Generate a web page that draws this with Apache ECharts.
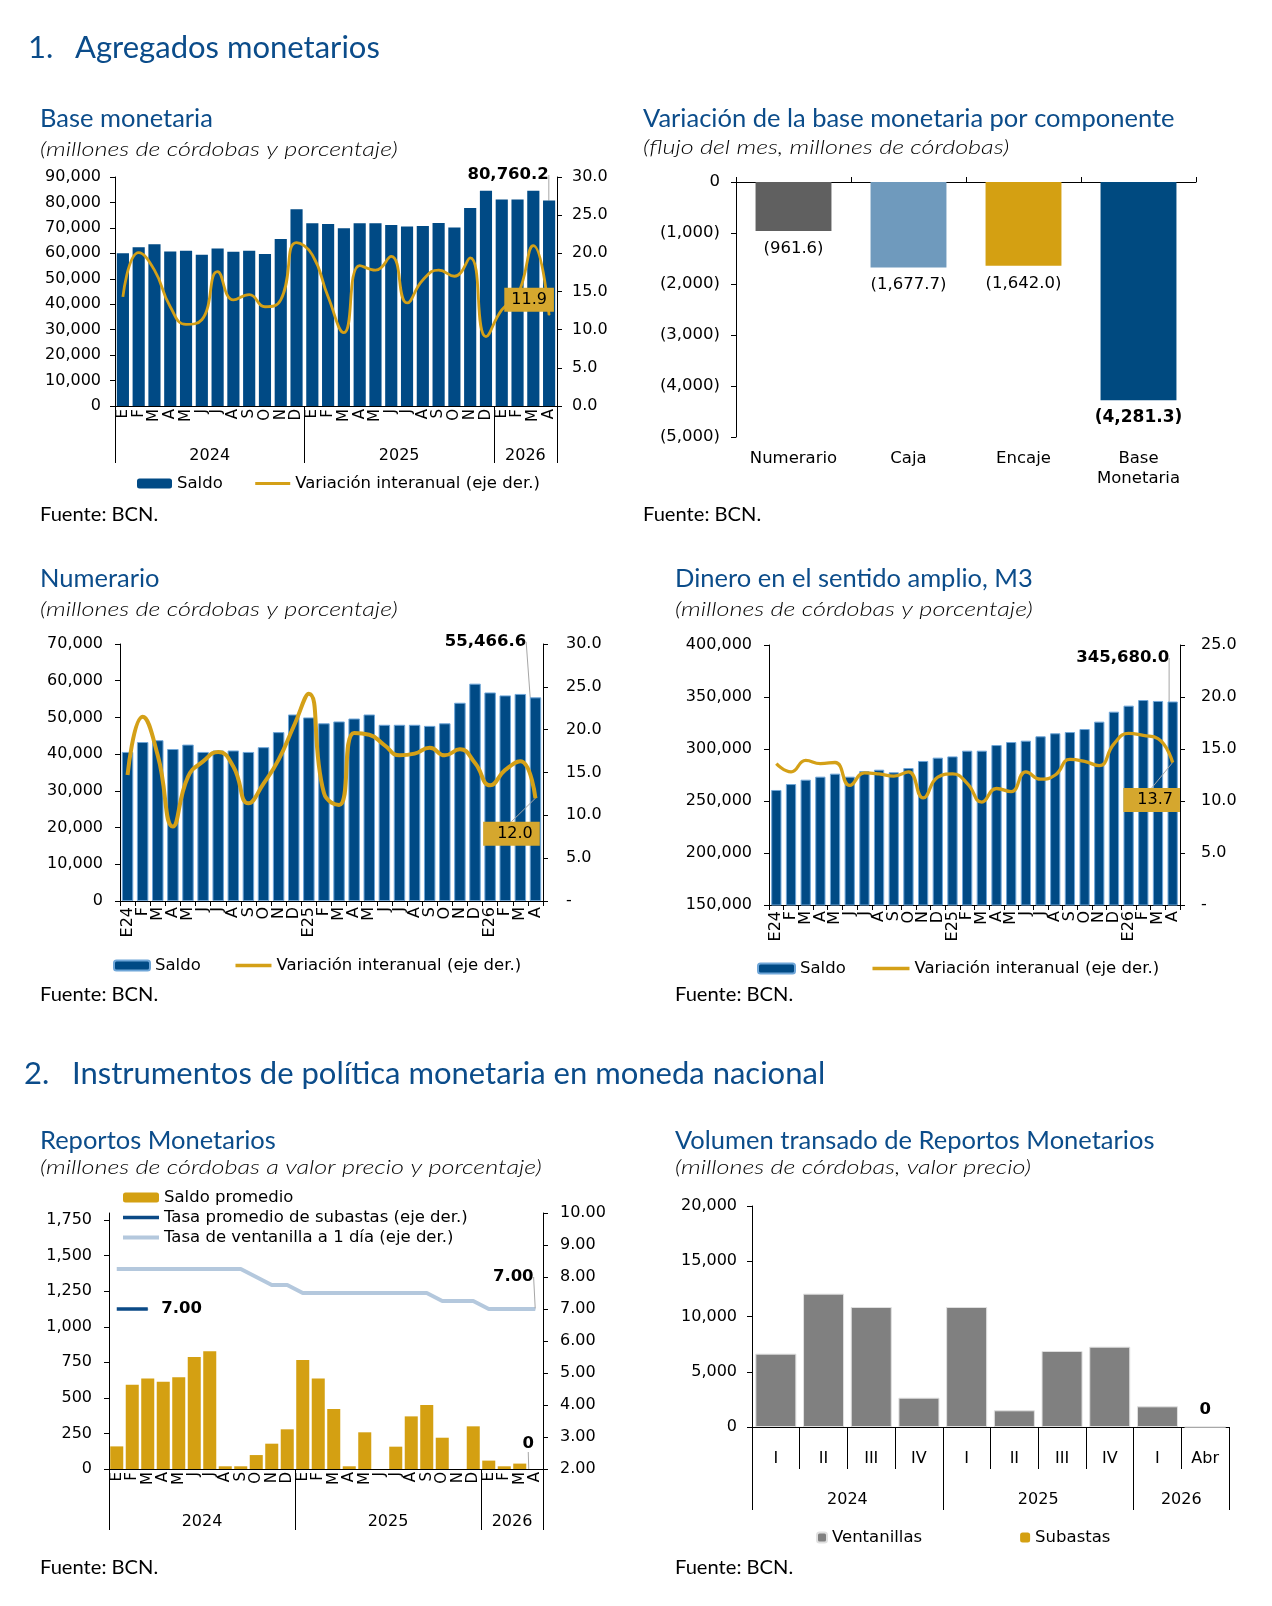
<!DOCTYPE html>
<html>
<head>
<meta charset="utf-8">
<script src="https://cdn.jsdelivr.net/npm/echarts@6/dist/echarts.min.js"></script>
<style>
  html, body { margin: 0; padding: 0; background: #fff; }
  #main { width: 1272px; height: 1606px; }
</style>
</head>
<body>
<div id="main"></div>
<script>
// categorias
const months = ['E','F','M','A','M','J','J','A','S','O','N','D','E','F','M','A','M','J','J','A','S','O','N','D','E','F','M','A']
const monthsYr = ['E24','F','M','A','M','J','J','A','S','O','N','D','E25','F','M','A','M','J','J','A','S','O','N','D','E26','F','M','A']
const years = ['2024', '2025', '2026']
const yearSpans = [12, 12, 4]

// Base monetaria
const baseSaldo = [60000, 62400, 63600, 60700, 61000, 59400, 61900, 60600, 61000, 59700, 65600, 77300,
  71800, 71500, 69900, 71800, 71800, 71100, 70500, 70700, 71900, 70200, 77800, 84600,
  81200, 81200, 84600, 80760.2]
const baseVar = [14.3, 20.1, 17.8, 13.0, 10.7, 11.3, 17.6, 13.9, 14.6, 13.0, 13.9, 21.4,
  19.8, 14.3, 9.6, 18.4, 17.8, 19.6, 13.5, 16.5, 17.8, 17.0, 19.4, 9.1,
  12.6, 14.5, 21.0, 11.9]

// Variacion por componente
const compCats = ['Numerario', 'Caja', 'Encaje', 'Base\nMonetaria']
const compVals = [-961.6, -1677.7, -1642.0, -4281.3]

// Numerario
const numSaldo = [40600, 43300, 43800, 41400, 42600, 40600, 41000, 41000, 40600, 41900, 46000, 50800,
  50000, 48400, 48900, 49700, 50800, 48000, 48000, 48000, 47700, 48400, 54000, 59200,
  56800, 56000, 56400, 55466.6]
const numVar = [14.7, 21.5, 17.0, 8.7, 14.5, 16.3, 17.4, 15.7, 11.4, 13.7, 16.5, 20.4,
  24.2, 12.6, 11.2, 19.6, 19.4, 18.2, 17.0, 17.2, 17.9, 17.0, 17.7, 16.1,
  13.5, 15.3, 16.3, 12.0]

// M3
const m3Saldo = [260600, 266300, 270500, 273400, 276300, 273400, 278800, 280100, 277600, 281700, 288500, 291700,
  292900, 298400, 298400, 303800, 306700, 308000, 312200, 315100, 316300, 319200, 326300, 335900,
  341700, 347100, 346200, 345680.0]
const m3Var = [13.6, 12.8, 13.9, 13.6, 13.7, 11.5, 12.7, 12.6, 12.4, 12.8, 10.3, 12.3,
  12.6, 11.7, 9.9, 11.2, 10.9, 12.8, 12.1, 12.5, 14.0, 13.8, 13.4, 15.5,
  16.5, 16.3, 16.0, 13.7]

// Reportos monetarios
const repSaldo = [159, 593, 636, 614, 645, 788, 828, 19, 19, 98, 178, 279,
  767, 636, 422, 19, 258, 0, 157, 370, 450, 220, 0, 300,
  59, 19, 38, 0]
const repSubasta = [7.00, 7.00, 7.00, null, null, null, null, null, null, null, null, null,
  null, null, null, null, null, null, null, null, null, null, null, null,
  null, null, null, null]
const repVentanilla = [8.25, 8.25, 8.25, 8.25, 8.25, 8.25, 8.25, 8.25, 8.25, 8.00, 7.75, 7.75,
  7.50, 7.50, 7.50, 7.50, 7.50, 7.50, 7.50, 7.50, 7.50, 7.25, 7.25, 7.25,
  7.00, 7.00, 7.00, 7.00]

// Volumen transado
const quarters = ['I', 'II', 'III', 'IV', 'I', 'II', 'III', 'IV', 'I', 'Abr']
const volYears = ['2024', '2025', '2026']
const volYearSpans = [4, 4, 2]
const volVentanillas = [6640, 12070, 10860, 2655, 10860, 1510, 6880, 7270, 1870, 0]
const volSubastas = [0, 0, 0, 0, 0, 0, 0, 0, 0, 0]

// limites y centros de los grupos de años
function bounds(spans) {
  const b = [0]
  spans.forEach(s => b.push(b[b.length - 1] + s))
  return b
}
function mids(spans) {
  const b = bounds(spans)
  return spans.map((s, i) => b[i] + s / 2)
}

const BLUE = '#004A85'
const GOLD = '#D4A017'
const TITLE = '#0B4C8A'
const font = 'DejaVu Sans'
const tick = { fontFamily: font, fontSize: 16, color: '#000' }
const legText = { fontFamily: font, fontSize: 16.5, color: '#000' }
const blackLine = { lineStyle: { color: '#000', width: 1 } }
const guide = { show: true, lineStyle: { color: '#A6A6A6', width: 1 } }
const strip = name => name.split('#')[0]
const fmtK = v => v.toLocaleString('en-US')
const fmt1 = v => v.toLocaleString('en-US', { minimumFractionDigits: 1, maximumFractionDigits: 1 })
const lineItem = (name, w) => ({ name, itemStyle: { opacity: 0 }, lineStyle: { width: w } })

function lastItem(arr, extra) {
  return arr.map((v, i) => i === arr.length - 1 ? Object.assign({ value: v }, extra) : v)
}

// mueve la etiqueta y traza la guia desde un punto de la etiqueta (fx, fy relativos)
// hasta la esquina superior derecha (o centro) del elemento
function leader(dx, dy, fx, fy, toRight) {
  return p => {
    const l = p.labelRect
    const r = p.rect
    const a = [l.x + dx + l.width * fx, l.y + dy + l.height * fy]
    const b = toRight ? [r.x + r.width, r.y] : [r.x + r.width / 2, r.y + r.height / 2]
    return { dx, dy, labelLinePoints: [a, [(a[0] + b[0]) / 2, (a[1] + b[1]) / 2], b] }
  }
}

function valAxis(grid, pos, min, max, interval, fmt, margin, size) {
  return {
    type: 'value', gridIndex: grid, min, max, interval, position: pos,
    axisLine: { show: true, onZero: false, ...blackLine },
    axisTick: { show: true, length: 5, ...blackLine },
    axisLabel: { ...tick, fontSize: size || 16, margin, formatter: fmt },
    splitLine: { show: false }
  }
}
function yearAxis(grid, spans, names, tickLen, margin) {
  const b = bounds(spans)
  const m = mids(spans)
  return {
    type: 'value', gridIndex: grid, position: 'bottom', min: 0, max: b[b.length - 1],
    axisLine: { show: false, onZero: false },
    splitLine: { show: false },
    axisTick: { show: true, customValues: b, length: tickLen, ...blackLine },
    axisLabel: { ...tick, customValues: m, margin, formatter: v => names[m.indexOf(v)] || '' }
  }
}
function monthAxis(grid, data, withTicks, size, margin) {
  return {
    type: 'category', gridIndex: grid, data, position: 'bottom',
    axisLine: { show: true, onZero: false, ...blackLine },
    axisTick: withTicks ? { show: true, length: 5, interval: 0, ...blackLine } : { show: false },
    axisLabel: { ...tick, fontSize: size, rotate: 90, interval: 0, margin }
  }
}

function txt(text, x, y, size, opts, sx) {
  return {
    type: 'text', x, y, scaleX: sx || 1,
    style: Object.assign({
      text, fontFamily: 'Lato', fontSize: size, fill: TITLE,
      align: 'left', verticalAlign: 'middle'
    }, opts || {})
  }
}
const sub = { fill: '#000', fontStyle: 'italic', fontWeight: 300 }
const src = { fill: '#000' }
const SUBX = 1.23
const SRCX = 1.06

const chart = echarts.init(document.getElementById('main'))

const option = {
  animation: false,
  backgroundColor: '#fff',
  graphic: { elements: [
    txt('1.', 28, 48, 31),
    txt('Agregados monetarios', 75, 48, 31),
    txt('Base monetaria', 40, 119, 25.5),
    txt('(millones de córdobas y porcentaje)', 40, 149, 20.5, sub, SUBX),
    txt('Variación de la base monetaria por componente', 643, 119, 25.5),
    txt('(flujo del mes, millones de córdobas)', 643, 147, 20.5, sub, SUBX),
    txt('Fuente: BCN.', 40, 515, 19, src, SRCX),
    txt('Fuente: BCN.', 643, 515, 19, src, SRCX),
    txt('Numerario', 40, 579, 25.5),
    txt('(millones de córdobas y porcentaje)', 40, 609, 20.5, sub, SUBX),
    txt('Dinero en el sentido amplio, M3', 675, 579, 25.5),
    txt('(millones de córdobas y porcentaje)', 675, 609, 20.5, sub, SUBX),
    txt('Fuente: BCN.', 40, 995, 19, src, SRCX),
    txt('Fuente: BCN.', 675, 995, 19, src, SRCX),
    txt('2.', 24, 1074, 31),
    txt('Instrumentos de política monetaria en moneda nacional', 72, 1074, 31),
    txt('Reportos Monetarios', 40, 1141, 25.5),
    txt('(millones de córdobas a valor precio y porcentaje)', 40, 1167, 20.5, sub, SUBX),
    txt('Volumen transado de Reportos Monetarios', 675, 1141, 25.5),
    txt('(millones de córdobas, valor precio)', 675, 1167, 20.5, sub, SUBX),
    txt('Fuente: BCN.', 40, 1568, 19, src, SRCX),
    txt('Fuente: BCN.', 675, 1568, 19, src, SRCX)
  ] },
  grid: [
    { left: 115, top: 177, width: 442, height: 229, outerBoundsMode: 'none' },
    { left: 736, top: 182, width: 460, height: 255, outerBoundsMode: 'none' },
    { left: 120, top: 644, width: 423, height: 257, outerBoundsMode: 'none' },
    { left: 769, top: 645, width: 411, height: 260, outerBoundsMode: 'none' },
    { left: 109, top: 1213, width: 434, height: 256, outerBoundsMode: 'none' },
    { left: 752, top: 1206, width: 477, height: 221, outerBoundsMode: 'none' }
  ],
  legend: [
    {
      data: ['Saldo#1', lineItem('Variación interanual (eje der.)#1', 3)], left: 137, top: 475, padding: 0,
      itemWidth: 35, itemHeight: 10, itemGap: 31, selectedMode: false,
      formatter: strip, textStyle: { ...legText }
    },
    {
      data: ['Saldo#3', lineItem('Variación interanual (eje der.)#3', 3.5)], left: 113, top: 957, padding: 0,
      itemWidth: 36, itemHeight: 10, itemGap: 33, selectedMode: false,
      formatter: strip, textStyle: { ...legText }
    },
    {
      data: ['Saldo#4', lineItem('Variación interanual (eje der.)#4', 3.5)], left: 757, top: 960, padding: 0,
      itemWidth: 37, itemHeight: 10, itemGap: 25, selectedMode: false,
      formatter: strip, textStyle: { ...legText }
    },
    {
      data: ['Saldo promedio',
        lineItem('Tasa promedio de subastas (eje der.)', 3.5),
        lineItem('Tasa de ventanilla a 1 día (eje der.)', 4)],
      orient: 'vertical', left: 121, top: 1189, padding: 0,
      itemWidth: 36, itemHeight: 10, itemGap: 3, selectedMode: false,
      textStyle: { ...legText }
    },
    {
      data: ['Ventanillas', 'Subastas'], left: 816, top: 1529, padding: 0,
      itemWidth: 10, itemHeight: 10, itemGap: 98, selectedMode: false,
      textStyle: { ...legText }
    }
  ],
  xAxis: [
    // 0 base monetaria meses
    monthAxis(0, months, false, 15, 3),
    // 1 base monetaria años
    yearAxis(0, yearSpans, years, 57, 42),
    // 2 componentes linea superior
    {
      type: 'category', gridIndex: 1, data: compCats, position: 'top',
      axisLine: { show: true, onZero: false, ...blackLine },
      axisTick: { show: true, length: 5, ...blackLine },
      axisLabel: { show: false }
    },
    // 3 componentes etiquetas
    {
      type: 'category', gridIndex: 1, data: compCats, position: 'bottom',
      axisLine: { show: false, onZero: false },
      axisTick: { show: false },
      axisLabel: { ...tick, fontSize: 16.5, margin: 12, lineHeight: 20 }
    },
    // 4 numerario meses
    monthAxis(2, monthsYr, true, 16, 6),
    // 5 M3 meses
    monthAxis(3, monthsYr, true, 16, 6),
    // 6 reportos meses
    monthAxis(4, months, false, 15, 3),
    // 7 reportos años
    yearAxis(4, yearSpans, years, 61, 45),
    // 8 volumen trimestres
    {
      type: 'category', gridIndex: 5, data: quarters, position: 'bottom',
      axisLine: { show: true, onZero: false, ...blackLine },
      axisTick: { show: true, length: 42, interval: 0, ...blackLine },
      axisLabel: { ...tick, interval: 0, margin: 24 }
    },
    // 9 volumen años
    yearAxis(5, volYearSpans, volYears, 83, 65)
  ],
  yAxis: [
    valAxis(0, 'left', 0, 90000, 10000, fmtK, 14),
    valAxis(0, 'right', 0, 30, 5, v => v.toFixed(1), 15),
    valAxis(1, 'left', -5000, 0, 1000, v => v === 0 ? '0' : '(' + fmtK(Math.abs(v)) + ')', 16, 16.5),
    valAxis(2, 'left', 0, 70000, 10000, fmtK, 17),
    valAxis(2, 'right', 0, 30, 5, v => v === 0 ? '-' : v.toFixed(1), 23),
    valAxis(3, 'left', 150000, 400000, 50000, fmtK, 17),
    valAxis(3, 'right', 0, 25, 5, v => v === 0 ? '-' : v.toFixed(1), 21),
    valAxis(4, 'left', 0, 1800, 250, fmtK, 17),
    valAxis(4, 'right', 2, 10, 1, v => v.toFixed(2), 17),
    valAxis(5, 'left', 0, 20000, 5000, fmtK, 15)
  ],
  series: [
    // base monetaria
    {
      name: 'Saldo#1', type: 'bar', xAxisIndex: 0, yAxisIndex: 0,
      barCategoryGap: '23%', itemStyle: { color: BLUE },
      data: lastItem(baseSaldo, { label: { show: true } }),
      label: {
        show: false, position: 'top', formatter: p => fmt1(p.value),
        fontFamily: font, fontSize: 16.5, fontWeight: 'bold', color: '#000'
      },
      labelLayout: leader(-41, -12, 0.5, 1, true),
      labelLine: guide
    },
    {
      name: 'Variación interanual (eje der.)#1', type: 'line', xAxisIndex: 0, yAxisIndex: 1,
      smooth: true, symbol: 'none', z: 3,
      lineStyle: { color: GOLD, width: 2.8 }, itemStyle: { color: GOLD },
      data: lastItem(baseVar, { symbol: 'circle', symbolSize: 1, label: { show: true } }),
      label: {
        show: false, position: 'top', formatter: p => p.value.toFixed(1),
        fontFamily: font, fontSize: 16, color: '#000',
        backgroundColor: '#D5A72E', padding: [4, 7, 4, 7]
      },
      labelLayout: { dx: -20, dy: 2 }
    },
    // componentes
    {
      name: 'Componentes', type: 'bar', xAxisIndex: 2, yAxisIndex: 2,
      barWidth: '66%',
      data: compVals.map((v, i) => ({
        value: v,
        itemStyle: { color: ['#606060', '#6F9ABD', '#D4A012', '#004A80'][i] },
        label: i === compVals.length - 1 ? { fontWeight: 'bold', fontSize: 17 } : {}
      })),
      label: {
        show: true, position: 'bottom', distance: 9,
        formatter: p => '(' + fmt1(Math.abs(p.value)) + ')',
        fontFamily: font, fontSize: 16.5, color: '#000'
      }
    },
    // numerario
    {
      name: 'Saldo#3', type: 'bar', xAxisIndex: 4, yAxisIndex: 3,
      barCategoryGap: '24%', itemStyle: { color: BLUE, borderColor: '#6FA6D8', borderWidth: 1 },
      data: lastItem(numSaldo, { label: { show: true } }),
      label: {
        show: false, position: 'top', formatter: p => fmt1(p.value),
        fontFamily: font, fontSize: 16.5, fontWeight: 'bold', color: '#000'
      },
      labelLayout: leader(-50, -42, 0.5, 1, true),
      labelLine: guide
    },
    {
      name: 'Variación interanual (eje der.)#3', type: 'line', xAxisIndex: 4, yAxisIndex: 4,
      smooth: true, symbol: 'none', z: 3,
      lineStyle: { color: GOLD, width: 4 }, itemStyle: { color: GOLD },
      data: lastItem(numVar, { symbol: 'circle', symbolSize: 1, label: { show: true } }),
      label: {
        show: false, position: 'top', formatter: p => p.value.toFixed(1),
        fontFamily: font, fontSize: 16, color: '#000',
        backgroundColor: '#D5A72E', padding: [4, 7, 4, 14]
      },
      labelLayout: leader(-24, 53, 0.5, 0, false),
      labelLine: guide
    },
    // M3
    {
      name: 'Saldo#4', type: 'bar', xAxisIndex: 5, yAxisIndex: 5,
      barCategoryGap: '30%', itemStyle: { color: BLUE, borderColor: '#6FA6D8', borderWidth: 1 },
      data: lastItem(m3Saldo, { label: { show: true } }),
      label: {
        show: false, position: 'top', formatter: p => fmt1(p.value),
        fontFamily: font, fontSize: 16.5, fontWeight: 'bold', color: '#000'
      },
      labelLayout: leader(-50, -30, 0.5, 1, true),
      labelLine: guide
    },
    {
      name: 'Variación interanual (eje der.)#4', type: 'line', xAxisIndex: 5, yAxisIndex: 6,
      smooth: true, symbol: 'none', z: 3,
      lineStyle: { color: GOLD, width: 3.3 }, itemStyle: { color: GOLD },
      data: lastItem(m3Var, { symbol: 'circle', symbolSize: 1, label: { show: true } }),
      label: {
        show: false, position: 'top', formatter: p => p.value.toFixed(1),
        fontFamily: font, fontSize: 16, color: '#000',
        backgroundColor: '#D5A72E', padding: [4, 7, 4, 14]
      },
      labelLayout: leader(-21, 55, 0.5, 0, false),
      labelLine: guide
    },
    // reportos
    {
      name: 'Saldo promedio', type: 'bar', xAxisIndex: 6, yAxisIndex: 7,
      barCategoryGap: '16%', itemStyle: { color: '#D4A012' },
      data: lastItem(repSaldo, { label: { show: true } }),
      label: {
        show: false, position: 'top', formatter: p => fmtK(p.value),
        fontFamily: font, fontSize: 16.5, fontWeight: 'bold', color: '#000'
      },
      labelLayout: leader(-7, -12, 0.6, 1, false),
      labelLine: guide
    },
    {
      name: 'Tasa promedio de subastas (eje der.)', type: 'line', xAxisIndex: 6, yAxisIndex: 8,
      symbol: 'none', z: 4,
      lineStyle: { color: '#0B4A86', width: 3.5 }, itemStyle: { color: '#0B4A86' },
      data: repSubasta.map((v, i) => i === 2 ? { value: v, symbol: 'circle', symbolSize: 1, label: { show: true } } : v),
      label: {
        show: false, position: 'right', distance: 13, formatter: p => p.value.toFixed(2),
        fontFamily: font, fontSize: 16.5, fontWeight: 'bold', color: '#000'
      }
    },
    {
      name: 'Tasa de ventanilla a 1 día (eje der.)', type: 'line', xAxisIndex: 6, yAxisIndex: 8,
      symbol: 'none', z: 3,
      lineStyle: { color: '#B4C8DD', width: 4 }, itemStyle: { color: '#B4C8DD' },
      data: lastItem(repVentanilla, { symbol: 'circle', symbolSize: 1, label: { show: true } }),
      label: {
        show: false, position: 'top', formatter: p => p.value.toFixed(2),
        fontFamily: font, fontSize: 16.5, fontWeight: 'bold', color: '#000'
      },
      labelLayout: leader(-22, -18, 0.55, 1, false),
      labelLine: guide
    },
    // volumen
    {
      name: 'Ventanillas', type: 'bar', xAxisIndex: 8, yAxisIndex: 9, stack: 'vol',
      barCategoryGap: '14%', itemStyle: { color: '#808080', borderColor: '#E0E0E0', borderWidth: 1 },
      data: lastItem(volVentanillas, { label: { show: true } }),
      label: {
        show: false, position: 'top', distance: 8, formatter: p => fmtK(p.value),
        fontFamily: font, fontSize: 16.5, fontWeight: 'bold', color: '#000'
      }
    },
    {
      name: 'Subastas', type: 'bar', xAxisIndex: 8, yAxisIndex: 9, stack: 'vol',
      itemStyle: { color: '#D4A012' },
      data: volSubastas
    }
  ]
}

chart.setOption(option)
</script>
</body>
</html>
